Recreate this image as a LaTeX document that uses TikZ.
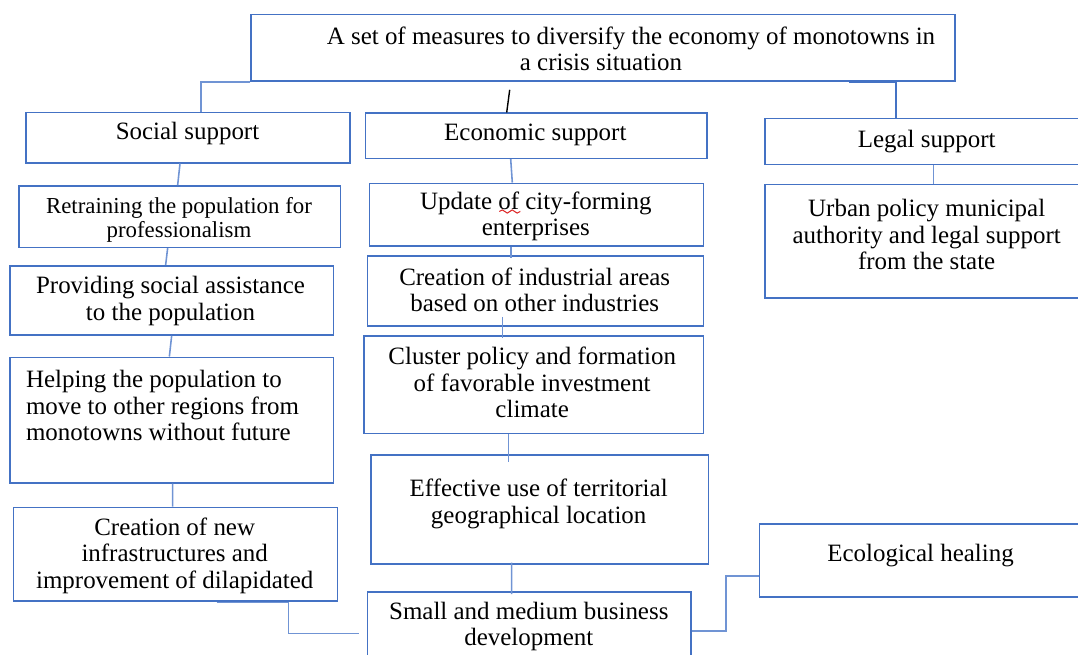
\documentclass[tikz,border=0pt]{standalone}
\usepackage{fontspec}
\setmainfont{Liberation Serif}
\usetikzlibrary{calc,decorations.pathmorphing}
\definecolor{boxblue}{RGB}{68,114,196}
\definecolor{linkblue}{RGB}{112,148,212}
\definecolor{spellred}{RGB}{220,40,40}

\begin{document}
\begin{tikzpicture}[x=0.02cm, y=-0.02cm,
    box/.style 2 args={draw=boxblue, line width=0.9pt, inner sep=0pt,
      minimum width=#1*0.02cm, minimum height=#2*0.02cm},
    lbl/.style={font=\fontsize{14.2}{15.1}\selectfont, align=center, inner sep=0pt, yshift=-0.045cm},
    lblsmall/.style={font=\fontsize{13}{13.7}\selectfont, align=center, inner sep=0pt, yshift=-0.03cm},
    link/.style={draw=linkblue, line width=0.9pt}]
  \useasboundingbox (0,0) rectangle (1078,654);
  \clip (0,0) rectangle (1078,654);

  % Head box
  \node[box={704}{66.5}] (top) at (603,47.75) {};
  \node[lbl] (ttop) at (601,46.5)
    {\hspace*{1.2cm}A set of measures to diversify the economy of monotowns in\\ a crisis situation};

  % Three kinds of support
  \node[box={324}{50.4}] (soc) at (188,137.5) {};
  \node[lbl] (tsoc) at (187.5,131.7) {Social support};
  \node[box={341}{45.6}] (eco) at (536.2,135.5) {};
  \node[lbl] (teco) at (535.3,132.3) {Economic support};
  \node[box={325}{46}] (leg) at (927.5,141.3) {};
  \node[lbl] (tleg) at (926.7,139.3) {Legal support};

  % Social column
  \node[box={321.7}{61.3}] (retrain) at (179.85,216.65) {};
  \node[lblsmall] (tretrain) at (179,218) {Retraining the population for\\ professionalism};
  \node[box={323.3}{69.3}] (assist) at (171.65,300.35) {};
  \node[lbl] (tassist) at (170.5,298.9) {Providing social assistance\\ to the population};
  \node[box={323.3}{125.4}] (move) at (171.65,420) {};
  \node[lbl, align=left, anchor=west] (tmove) at (25.7,403.5)
    {Helping the population to\\ move to other regions from\\ monotowns without future};
  \node[box={324}{93.4}] (infra) at (175.3,554) {};
  \node[lbl] (tinfra) at (174.7,553.6)
    {Creation of new\\ infrastructures and\\ improvement of dilapidated};

  % Economic column
  \node[box={334}{62.4}] (update) at (536.3,214.5) {};
  \node[lbl] (tupdate) at (535.8,214.2) {Update of city-forming\\ enterprises};
  \node[box={336}{70}] (indust) at (535.3,290.7) {};
  \node[lbl] (tindust) at (534.7,287.5) {Creation of industrial areas\\ based on other industries};
  \node[box={339.3}{97.6}] (cluster) at (533.65,384.5) {};
  \node[lbl] (tcluster) at (532.2,380.5)
    {Cluster policy and formation\\ of favorable investment\\ climate};
  \node[box={337.3}{109}] (geo) at (539.65,509.5) {};
  \node[lbl] (tgeo) at (538.7,501.7) {Effective use of territorial\\ geographical location};
  \node[box={323.4}{78.3}] (smb) at (529,630.85) {};
  \node[lbl] (tsmb) at (528.8,624.2) {Small and medium business\\ development};

  % Legal column and ecology
  \node[box={325}{113.4}] (urban) at (927.5,241) {};
  \node[lbl] (turban) at (926.7,232.3)
    {Urban policy municipal\\ authority and legal support\\ from the state};
  \node[box={330.4}{72.8}] (ecol) at (924.8,560.3) {};
  \node[lbl] (tecol) at (920.5,553) {Ecological healing};

  % spell-check mark under "of"
  \draw[spellred, line width=0.6pt, decorate,
    decoration={snake, amplitude=0.9pt, segment length=5.6pt}]
    ($(update.center)+(-37,-3)$) -- ++(21,0);

  % connectors from the head box
  \draw[link] (top.south west) -| ($(soc.north)+(13,0)$);
  \draw[black, line width=0.8pt] ($(top.south)+(-93.3,8)$) -- ($(eco.north)+(-29.5,0.6)$);
  \draw[link, draw=boxblue] ($(top.south east)+(-106.7,0)$) -| ($(leg.north)+(-31.5,0)$);

  % social column
  \draw[link] ($(soc.south)+(-8,0)$) -- ($(retrain.north)+(-2.2,0)$);
  \draw[link] ($(retrain.south)+(-12.2,0)$) -- ($(assist.north)+(-6,0)$);
  \draw[link] (assist.south) -- ($(move.north)+(-2.3,0)$);
  \draw[link] ($(move.south)+(1,0)$) -- ($(infra.north)+(-2.6,0)$);
  \draw[link] ($(infra.south)+(41.4,1)$) -- ++(71.6,0) |- ($(smb.west)+(-7.3,2.5)$);

  % economic column
  \draw[link] ($(eco.south)+(-25.5,0)$) -- ($(update.north)+(-24,0)$);
  \draw[link] ($(update.south)+(-25.3,0)$) -- ($(indust.north)+(-24.3,2.6)$);
  \draw[link] ($(indust.south)+(-33,-9.7)$) -- ($(cluster.north)+(-31.35,2.6)$);
  \draw[link] ($(cluster.south)+(-25.35,0)$) -- ($(geo.north)+(-31.35,7.7)$);
  \draw[link] ($(geo.south)+(-28,-2.3)$) -- ($(smb.north)+(-17.3,3.3)$);
  \draw[link] (smb.east) -- ++(34.6,0) |- ($(ecol.west)+(0,15.7)$);

  % legal column
  \draw[link] ($(leg.south)+(5.8,0)$) -- ($(urban.north)+(5.8,0)$);
\end{tikzpicture}
\end{document}
